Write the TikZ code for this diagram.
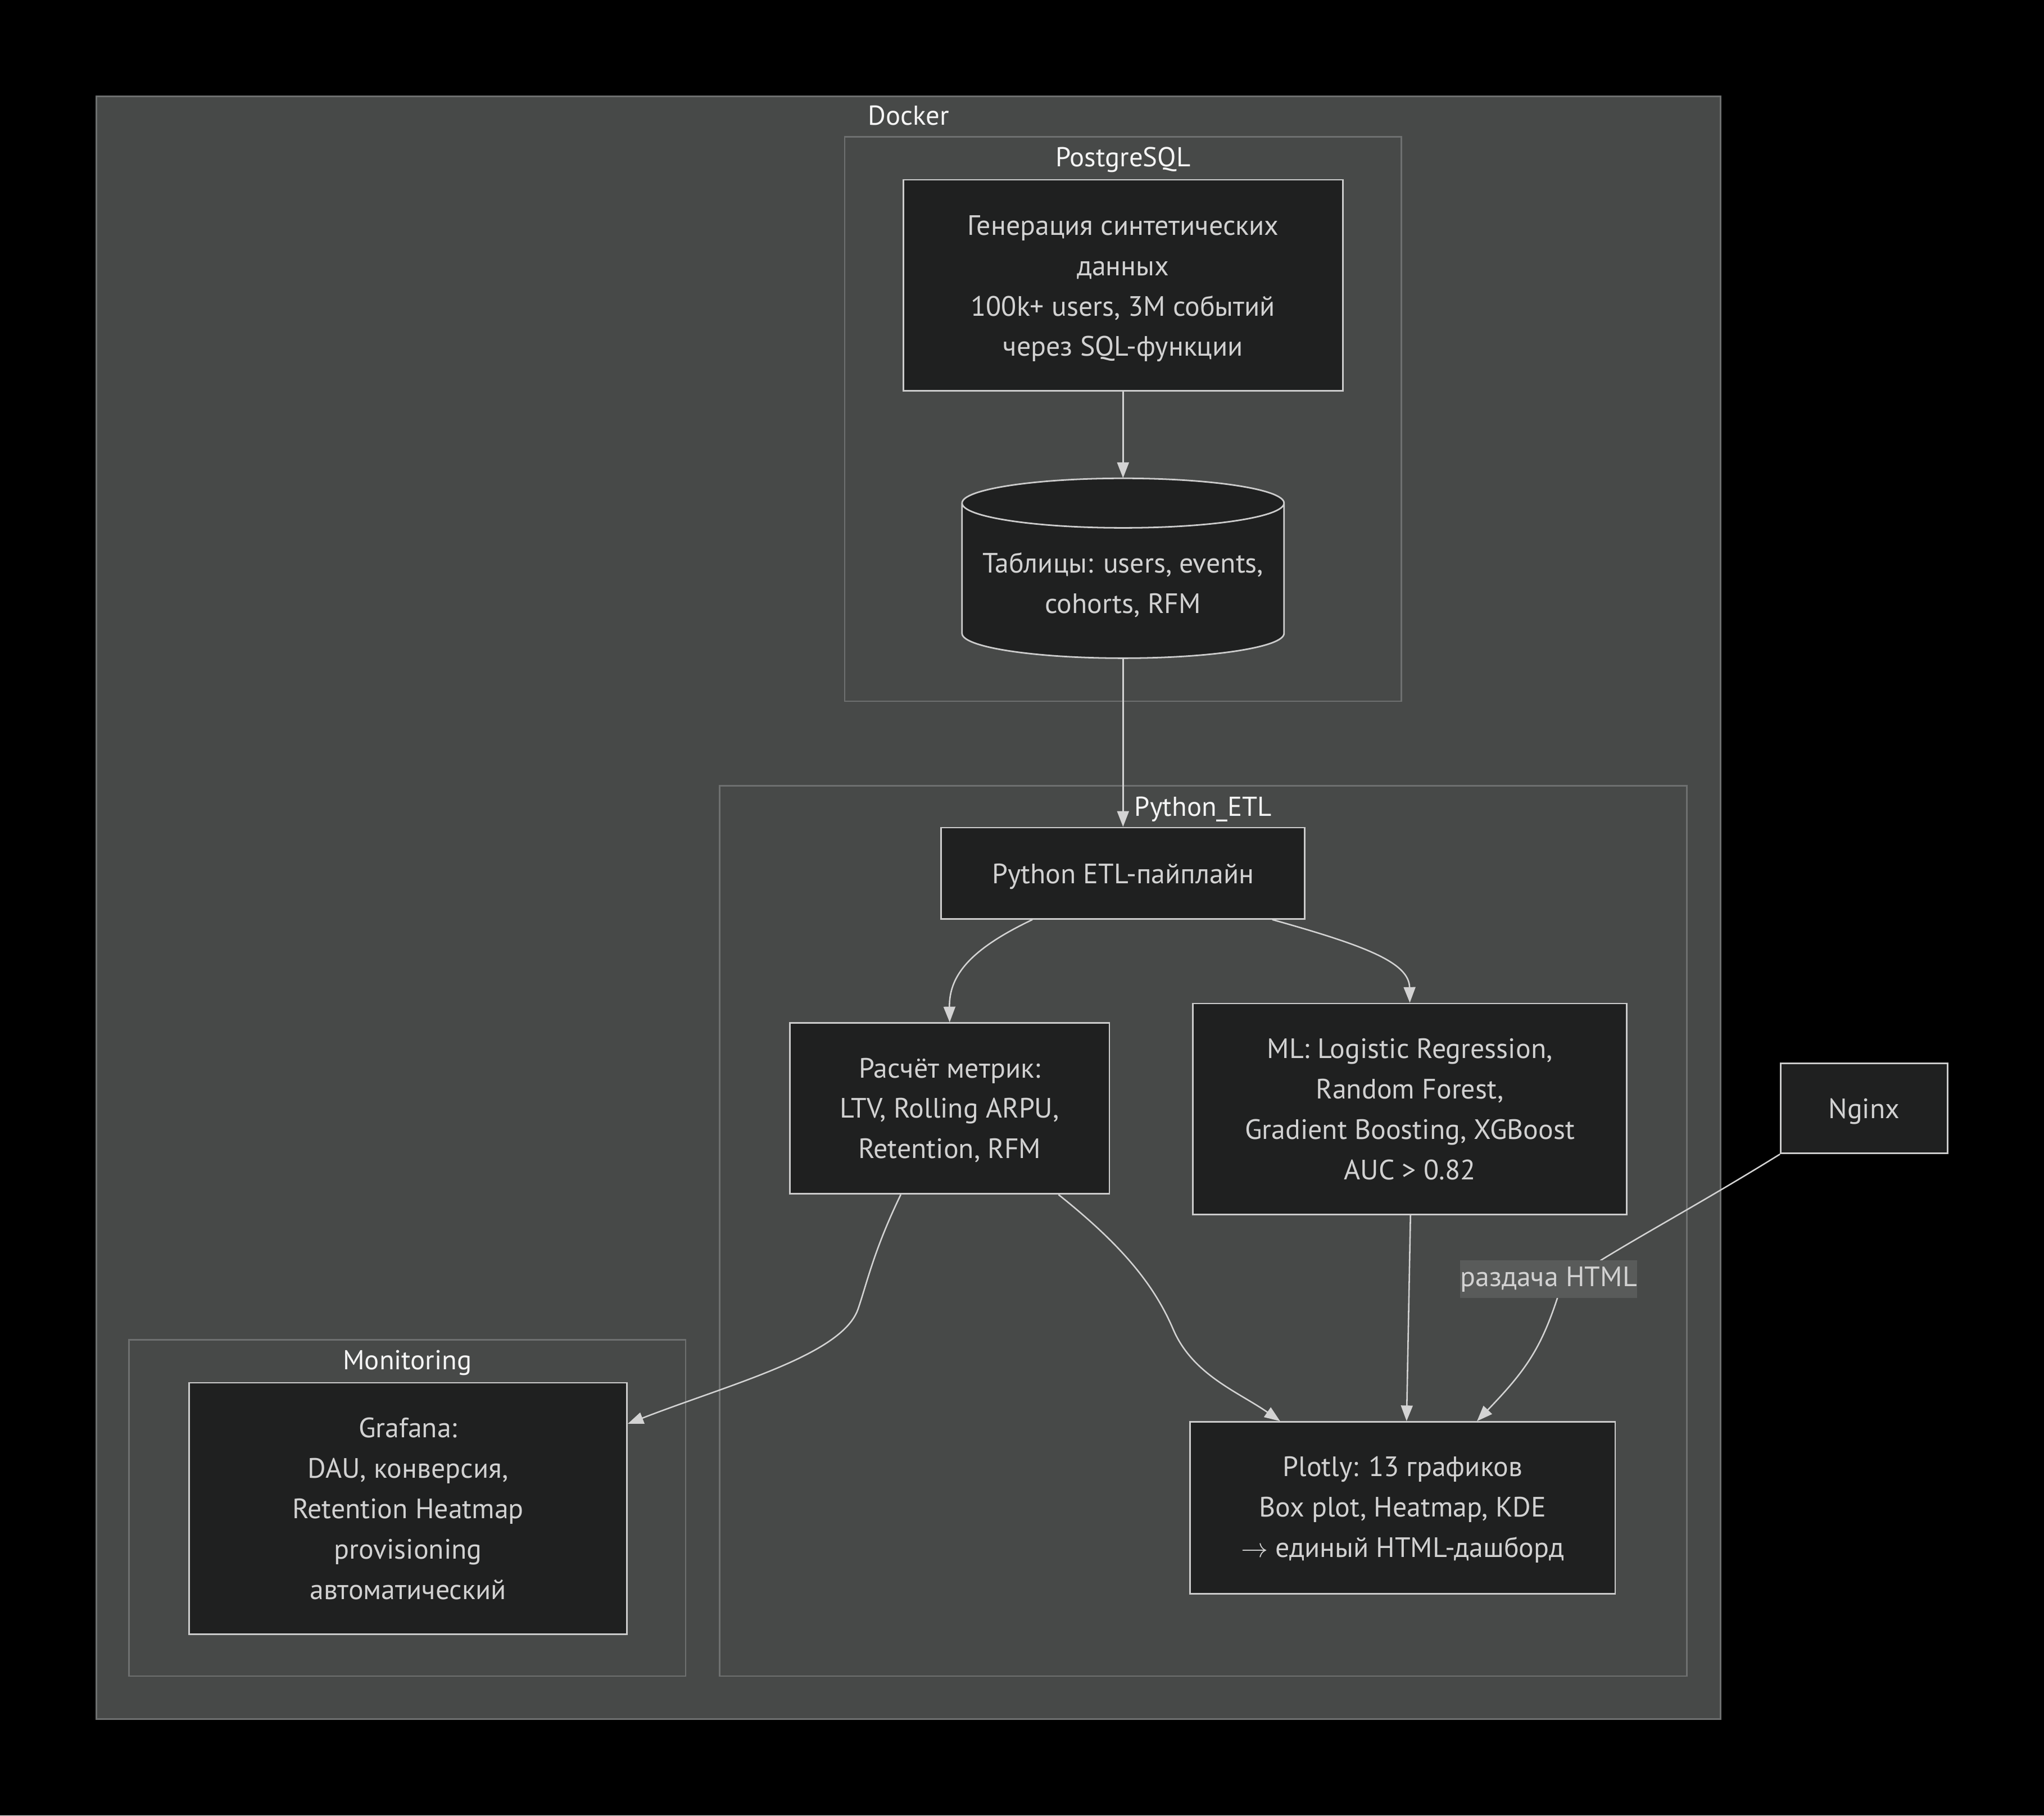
\documentclass[tikz,border=0pt]{standalone}
\usepackage{fontspec}
\setmainfont{PT Sans}
\usetikzlibrary{arrows.meta}
\definecolor{bgc}{HTML}{000000}
\definecolor{clfill}{HTML}{474948}
\definecolor{clline}{HTML}{6E7070}
\definecolor{ndfill}{HTML}{1F2020}
\definecolor{ndline}{HTML}{CCCCCC}
\definecolor{txt}{HTML}{D2D2D2}
\definecolor{ttl}{HTML}{F5F5F5}
\definecolor{edgec}{HTML}{D3D3D3}
\definecolor{lblbg}{HTML}{595B5A}
\newcommand\firstline[1]{\rule{0pt}{#1pt}}
\begin{document}
\begin{tikzpicture}[x=1pt,y=-1pt,
  cluster/.style={draw=clline, fill=clfill, line width=1.2pt},
  ctitle/.style={text=ttl, font=\fontsize{21}{24}\selectfont, inner sep=0pt, anchor=base},
  box/.style={draw=ndline, fill=ndfill, line width=1.2pt, text=txt, align=center,
    font=\fontsize{21.5}{31}\selectfont, inner sep=0pt, rectangle},
  edge/.style={draw=edgec, line width=1.1pt, -{Triangle[length=12pt,width=9pt]}},
  elabel/.style={fill=lblbg, text=txt, font=\fontsize{21.5}{24}\selectfont, inner sep=0pt,
    minimum width=134pt, minimum height=29pt},
]
% background / bounding box
\fill[bgc] (0,0) rectangle (1568,1393);
\useasboundingbox (0,0) rectangle (1568,1393);

% clusters
\path[cluster] (74,74) rectangle (1320,1319);
\node[ctitle] (tdocker) at (697,96) {Docker};
\path[cluster] (648,105) rectangle (1075,538);
\node[ctitle] (tpg) at (861.5,128) {PostgreSQL};
\path[cluster] (552,603) rectangle (1294,1286);
\node[ctitle] (tpy) at (923,626) {Python\_ETL};
\path[cluster] (99,1028) rectangle (526,1286);
\node[ctitle] (tmon) at (312.5,1051) {Monitoring};

% nodes
\node[box, minimum width=337pt, minimum height=162pt] (gen) at (861.5,219)
  {\firstline{20}Генерация синтетических\\данных\\100k+ users, 3M событий\\через SQL-функции};

% cylinder (database)
\fill[ndfill] (738,386) -- (738,486)
  .. controls (738,496.5) and (793.3,505) .. (861.5,505)
  .. controls (929.7,505) and (985,496.5) .. (985,486)
  -- (985,386)
  .. controls (985,375.5) and (929.7,367) .. (861.5,367)
  .. controls (793.3,367) and (738,375.5) .. (738,386) -- cycle;
\draw[ndline, line width=1.2pt] (738,386) -- (738,486)
  .. controls (738,496.5) and (793.3,505) .. (861.5,505)
  .. controls (929.7,505) and (985,496.5) .. (985,486)
  -- (985,386)
  .. controls (985,375.5) and (929.7,367) .. (861.5,367)
  .. controls (793.3,367) and (738,375.5) .. (738,386)
  .. controls (738,396.5) and (793.3,405) .. (861.5,405)
  .. controls (929.7,405) and (985,396.5) .. (985,386);
\node[inner sep=0pt, minimum width=247pt, minimum height=138pt] (db) at (861.5,436) {};
\node[text=txt, align=center, font=\fontsize{21.5}{31}\selectfont, inner sep=0pt]
  (dbtext) at (861.5,449) {Таблицы: users, events,\\cohorts, RFM};

\node[box, minimum width=279pt, minimum height=70pt] (etl) at (861.5,670)
  {\firstline{20}Python ETL-пайплайн};
\node[box, minimum width=245pt, minimum height=131pt] (met) at (728.5,850.5)
  {\firstline{18}Расчёт метрик:\\LTV, Rolling ARPU,\\Retention, RFM};
\node[box, minimum width=333pt, minimum height=162pt] (ml) at (1081.5,851)
  {ML: Logistic Regression,\\Random Forest,\\Gradient Boosting, XGBoost\\AUC > 0.82};
\node[box, minimum width=326pt, minimum height=132pt] (plot) at (1076,1157)
  {\firstline{18}Plotly: 13 графиков\\Box plot, Heatmap, KDE\\$\rightarrow$ единый HTML-дашборд};
\node[box, minimum width=336pt, minimum height=193pt] (graf) at (313,1157.5)
  {Grafana:\\DAU, конверсия,\\Retention Heatmap\\provisioning\\автоматический};
\node[box, minimum width=128pt, minimum height=69pt] (nginx) at (1430,850.5)
  {\firstline{20}Nginx};

% edges
\draw[edge] (gen.south) -- (db.north);
\draw[edge] (db.south) -- (etl.north);
\draw[edge] ([xshift=-69.5pt]etl.south) .. controls (745,728) and (728,748) .. (met.north);
\draw[edge] ([xshift=114.5pt]etl.south) .. controls (1045,725) and (1081,738) .. (ml.north);
\draw[edge] ([xshift=-37.5pt]met.south) .. controls (670,960) and (665,985) .. (658,1005)
  .. controls (645,1040) and (560,1062) .. ([yshift=-32pt]graf.north east);
\draw[edge] ([xshift=83.5pt]met.south) .. controls (860,955) and (885,985) .. (900,1020)
  .. controls (915,1055) and (950,1068) .. ([xshift=-94pt]plot.north);
\draw[edge] ([xshift=0.5pt]ml.south) -- ([xshift=3pt]plot.north);
\draw[edge] (nginx.south west) .. controls (1310,920) and (1262,946) .. (1228,967)
  -- (1195,995) .. controls (1182,1035) and (1170,1052) .. ([xshift=57pt]plot.north);
\node[elabel] (lbl) at (1188,981.5) {раздача HTML};
\end{tikzpicture}
\end{document}
